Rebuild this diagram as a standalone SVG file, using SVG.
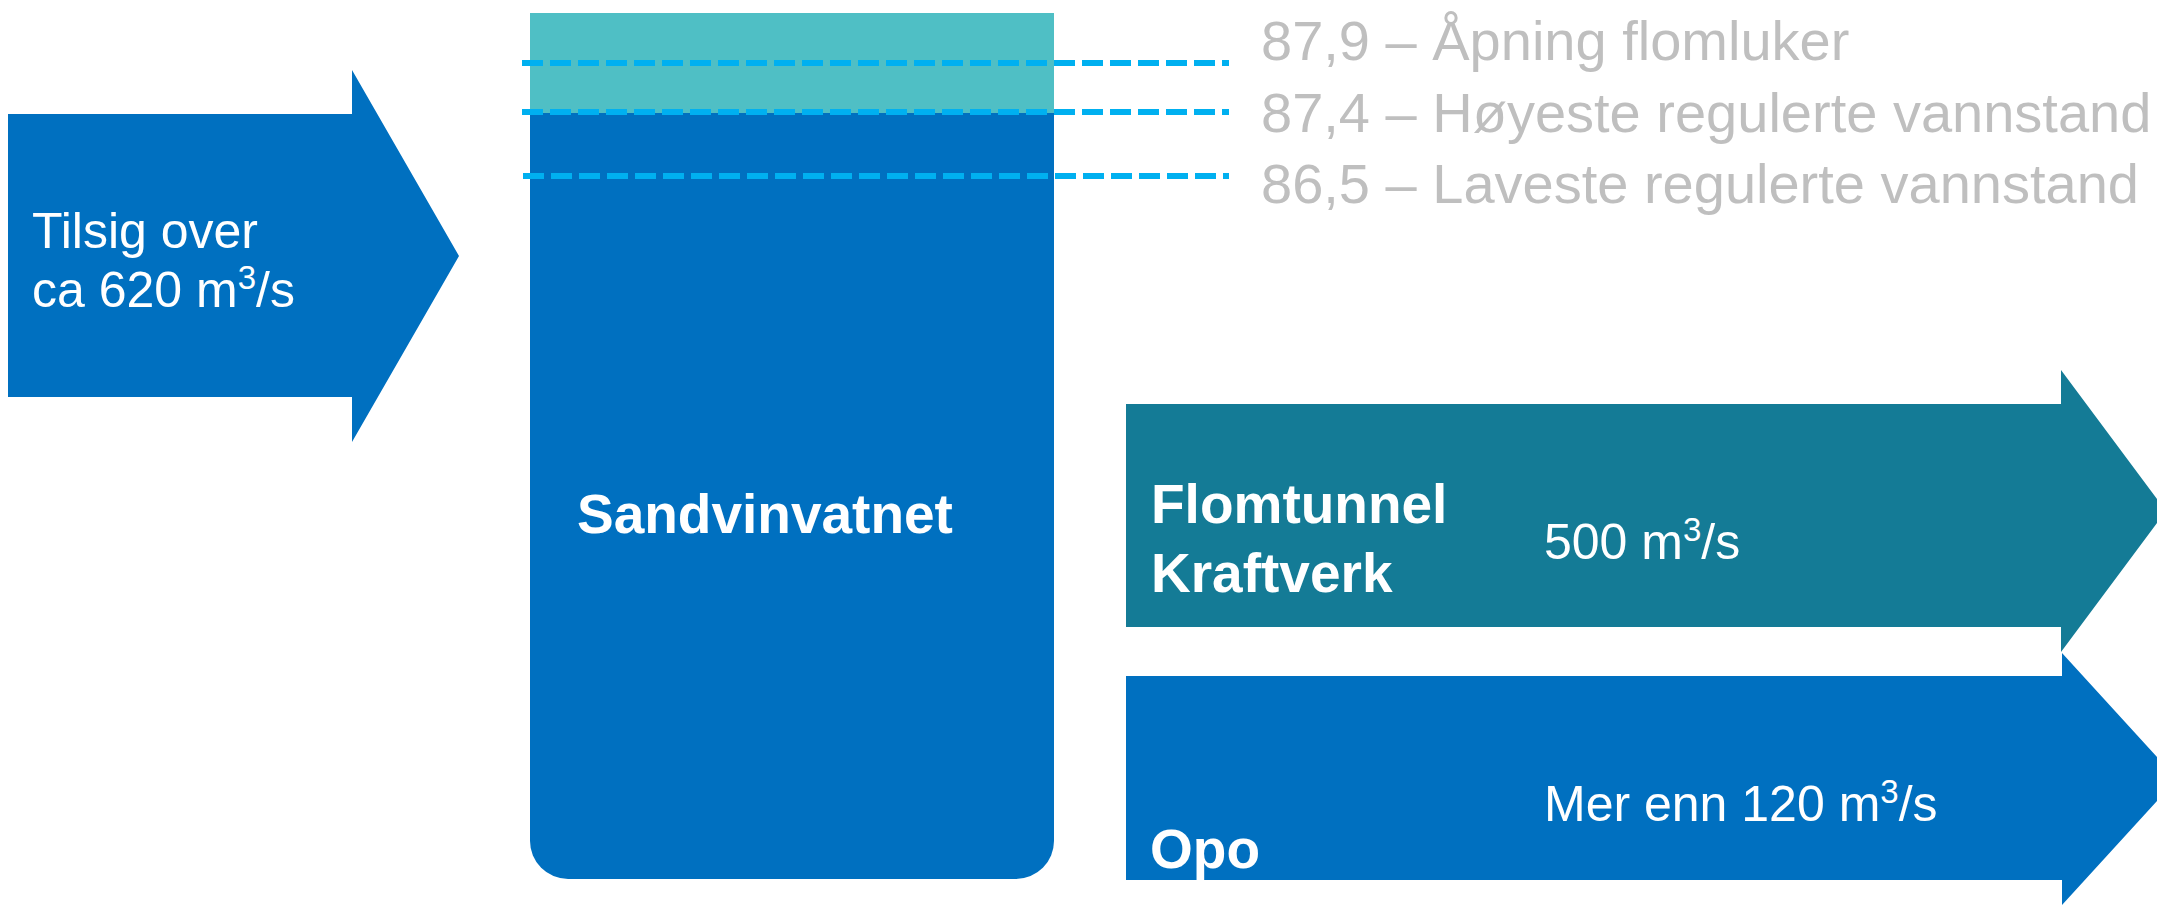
<svg xmlns="http://www.w3.org/2000/svg" width="2157" height="905" viewBox="0 0 2157 905">
  <style>
    .blue { fill: #0070C0; }
    .teal { fill: #147B96; }
    .lteal { fill: #4FBFC5; }
    .dash { stroke: #00B0F0; stroke-width: 6; stroke-dasharray: 21 7; fill: none; }
    .wt { fill: #FFFFFF; font-family: "Liberation Sans", Arial, sans-serif; font-size: 50px; }
    .wb { fill: #FFFFFF; font-family: "Liberation Sans", Arial, sans-serif; font-size: 55px; font-weight: bold; }
    .grey { fill: #BFBFBF; font-family: "Liberation Sans", Arial, sans-serif; font-size: 56px; }
  </style>
  <rect width="2157" height="905" fill="#FFFFFF"/>

  <g id="tilsig">
    <polygon class="blue" points="8,114 352,114 352,70 459,256 352,442 352,397 8,397"/>
    <text class="wt" x="32" y="248">Tilsig over</text>
    <text class="wt" x="32" y="307">ca 620 m<tspan font-size="33" dy="-18">3</tspan><tspan dy="18">/s</tspan></text>
  </g>

  <g id="sandvinvatnet">
    <path class="blue" d="M530,13 H1054 V841 A38,38 0 0 1 1016,879 H568 A38,38 0 0 1 530,841 Z"/>
    <rect class="lteal" x="530" y="13" width="524" height="100"/>
    <text class="wb" x="577" y="533" font-size="56.5">Sandvinvatnet</text>
  </g>

  <g id="level-lines">
    <line class="dash" x1="522" y1="63" x2="1229" y2="63"/>
    <line class="dash" x1="522" y1="112" x2="1229" y2="112"/>
    <line class="dash" x1="523" y1="176" x2="1229" y2="176"/>
  </g>

  <g id="levels">
    <text class="grey" x="1261" y="60">87,9 – Åpning flomluker</text>
    <text class="grey" x="1261" y="132">87,4 – Høyeste regulerte vannstand</text>
    <text class="grey" x="1261" y="203">86,5 – Laveste regulerte vannstand</text>
  </g>

  <g id="flomtunnel">
    <polygon class="teal" points="1126,404 2061,404 2061,370 2166,511 2061,652 2061,627 1126,627"/>
    <text class="wb" x="1151" y="523">Flomtunnel</text>
    <text class="wb" x="1151" y="592">Kraftverk</text>
    <text class="wt" x="1544" y="559">500 m<tspan font-size="33" dy="-18">3</tspan><tspan dy="18">/s</tspan></text>
  </g>

  <g id="opo">
    <polygon class="blue" points="1126,676 2062,676 2062,653 2177,779 2062,905 2062,880 1126,880"/>
    <text class="wb" x="1150" y="868">Opo</text>
    <text class="wt" x="1544" y="821">Mer enn 120 m<tspan font-size="33" dy="-18">3</tspan><tspan dy="18">/s</tspan></text>
  </g>

  <g id="connectors"/>
</svg>
